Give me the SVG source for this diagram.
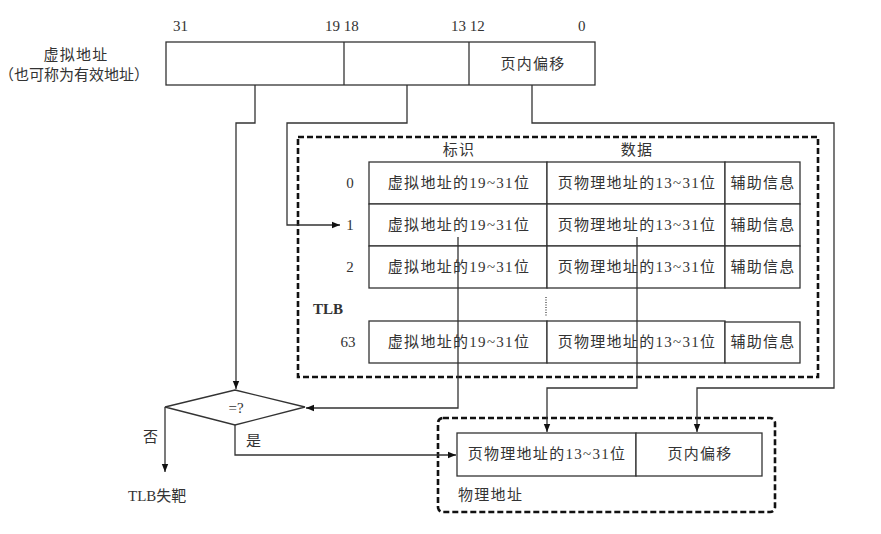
<svg xmlns="http://www.w3.org/2000/svg" width="881" height="534" viewBox="0 0 881 534">
<defs>
<style>
.t{font-family:"Liberation Serif","Noto Sans CJK SC",serif;font-size:15px;fill:#333;}
.c{text-anchor:middle;}
.s{letter-spacing:1.3px;}
.box{fill:#fff;stroke:#333;stroke-width:1.3;}
.ln{fill:none;stroke:#333;stroke-width:1.3;}
.dash{fill:none;stroke:#111;stroke-width:2.6;stroke-dasharray:6,3;}
</style>
<marker id="ah" viewBox="0 0 10 10" refX="10" refY="5" markerWidth="8" markerHeight="8" markerUnits="userSpaceOnUse" orient="auto">
<path d="M0,1 L10,5 L0,9 Z" fill="#111"/>
</marker>
</defs>
<rect width="881" height="534" fill="#fff"/>

<g id="virtual-address">
<text class="t c s" x="76" y="60">虚拟地址</text>
<text class="t c" x="74" y="80">（也可称为有效地址）</text>
<text class="t" x="173" y="31">31</text>
<text class="t" x="325" y="31">19 18</text>
<text class="t" x="451" y="31">13 12</text>
<text class="t" x="578" y="31">0</text>
<rect class="box" x="166" y="42" width="429" height="43"/>
<line class="ln" x1="344" y1="42" x2="344" y2="85"/>
<line class="ln" x1="469" y1="42" x2="469" y2="85"/>
<text class="t c s" x="533" y="69">页内偏移</text>
</g>

<g id="tlb">
<rect class="dash" x="298" y="137" width="520" height="240"/>
<text class="t c s" x="459" y="155">标识</text>
<text class="t c s" x="637" y="155">数据</text>
<text class="t" x="313" y="314" style="font-weight:bold">TLB</text>
<g id="row0">
<text class="t c" x="350" y="188">0</text>
<rect class="box" x="369" y="162" width="178" height="42"/>
<rect class="box" x="547" y="162" width="178" height="42"/>
<rect class="box" x="725" y="162" width="75" height="42"/>
<text class="t c s" x="459" y="188">虚拟地址的19~31位</text>
<text class="t c s" x="637" y="188">页物理地址的13~31位</text>
<text class="t c s" x="763" y="188">辅助信息</text>
</g>
<g id="row1">
<text class="t c" x="350" y="230">1</text>
<rect class="box" x="369" y="204" width="178" height="42"/>
<rect class="box" x="547" y="204" width="178" height="42"/>
<rect class="box" x="725" y="204" width="75" height="42"/>
<text class="t c s" x="459" y="230">虚拟地址的19~31位</text>
<text class="t c s" x="637" y="230">页物理地址的13~31位</text>
<text class="t c s" x="763" y="230">辅助信息</text>
</g>
<g id="row2">
<text class="t c" x="350" y="272">2</text>
<rect class="box" x="369" y="246" width="178" height="42"/>
<rect class="box" x="547" y="246" width="178" height="42"/>
<rect class="box" x="725" y="246" width="75" height="42"/>
<text class="t c s" x="459" y="272">虚拟地址的19~31位</text>
<text class="t c s" x="637" y="272">页物理地址的13~31位</text>
<text class="t c s" x="763" y="272">辅助信息</text>
</g>
<line x1="546" y1="297" x2="546" y2="316" stroke="#333" stroke-width="1.2" stroke-dasharray="1,1.5"/>
<g id="row63">
<text class="t c" x="348" y="347">63</text>
<rect class="box" x="369" y="321" width="178" height="42"/>
<rect class="box" x="547" y="321" width="178" height="42"/>
<rect class="box" x="725" y="322" width="75" height="41"/>
<text class="t c s" x="459" y="347">虚拟地址的19~31位</text>
<text class="t c s" x="637" y="347">页物理地址的13~31位</text>
<text class="t c s" x="763" y="347">辅助信息</text>
</g>
</g>

<g id="compare">
<polygon class="box" points="235,390 305,407 235,425 165,407"/>
<text class="t c" x="236" y="413">=?</text>
</g>

<g id="physical-address">
<rect class="dash" x="438" y="418" width="337" height="94" rx="5"/>
<rect class="box" x="457" y="433" width="179" height="43"/>
<rect class="box" x="636" y="433" width="126" height="43"/>
<text class="t c s" x="547" y="459">页物理地址的13~31位</text>
<text class="t c s" x="700" y="459">页内偏移</text>
<text class="t s" x="458" y="500">物理地址</text>
</g>

<g id="tlb-miss">
<text class="t" x="128" y="501">TLB失靶</text>
</g>

<g id="connectors">
<polyline class="ln" points="255,85 255,123 236,123 236,389" marker-end="url(#ah)"/>
<polyline class="ln" points="407,85 407,123 287,123 287,225 340,225" marker-end="url(#ah)"/>
<polyline class="ln" points="532,85 532,123 834,123 834,388 697,388 697,432" marker-end="url(#ah)"/>
<polyline class="ln" points="458,237 458,408 306,408" marker-end="url(#ah)"/>
<polyline class="ln" points="637,237 637,388 547,388 547,432" marker-end="url(#ah)"/>
<polyline class="ln" points="165,407 165,472" marker-end="url(#ah)"/>
<polyline class="ln" points="235,425 235,455 456,455" marker-end="url(#ah)"/>
<text class="t" x="143" y="442">否</text>
<text class="t" x="246" y="446">是</text>
</g>
</svg>
